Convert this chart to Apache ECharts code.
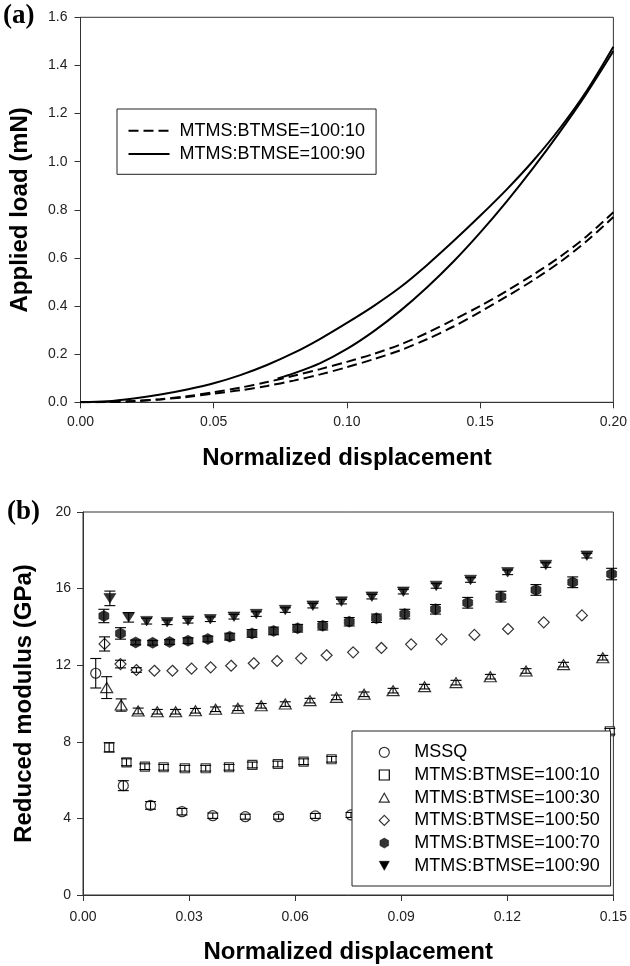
<!DOCTYPE html>
<html><head><meta charset="utf-8">
<script src="https://cdn.jsdelivr.net/npm/echarts@6/dist/echarts.min.js"></script>
<style>html,body{margin:0;padding:0;background:#fff}#c{width:630px;height:966px}</style>
</head><body><div id="c"></div>
<script>
// ---------- Panel (a): load vs normalized displacement ----------
const dispA = [0,0.01,0.02,0.03,0.04,0.05,0.06,0.07,0.08,0.09,0.10,0.11,0.12,0.13,0.14,0.15,0.16,0.17,0.18,0.19,0.20];
const load10Upper = [0,0.001,0.005,0.013,0.025,0.042,0.061,0.084,0.11,0.138,0.168,0.201,0.24,0.288,0.343,0.40,0.463,0.531,0.605,0.69,0.79];
const load10Lower = [0,0.001,0.005,0.012,0.022,0.036,0.050,0.068,0.09,0.116,0.146,0.179,0.216,0.262,0.315,0.376,0.44,0.508,0.583,0.67,0.77];
const load90Upper = [0,0.004,0.016,0.032,0.053,0.079,0.113,0.155,0.205,0.264,0.33,0.40,0.478,0.57,0.67,0.775,0.885,1.005,1.14,1.295,1.478];
const dispA90Lower = [0.074,0.08,0.09,0.10,0.11,0.12,0.13,0.14,0.15,0.16,0.17,0.18,0.19,0.20];
const load90Lower = [0.099,0.12,0.163,0.222,0.295,0.38,0.477,0.585,0.705,0.835,0.975,1.125,1.285,1.46];
const xTicksA = [0,0.2,0.05];   // min, max, interval
const yTicksA = [0,1.6,0.2];

// ---------- Panel (b): reduced modulus ----------
const namesB = ['MSSQ','MTMS:BTMSE=100:10','MTMS:BTMSE=100:30','MTMS:BTMSE=100:50','MTMS:BTMSE=100:70','MTMS:BTMSE=100:90'];
const mssqX = [0.0036,0.0114,0.0191,0.0280,0.0367,0.0459,0.0553,0.0657,0.0758];
const mssqY = [11.58,5.71,4.68,4.35,4.14,4.09,4.09,4.13,4.18];
const mssqErr = [0.77,0.26,0.2,0.17,0.14,0.13,0.13,0.13,0.13];
const b10X = [0.0074,0.0123,0.0175,0.0228,0.0288,0.0347,0.0413,0.0479,0.0551,0.0624,0.0703,0.1490];
const b10Y = [7.71,6.93,6.70,6.67,6.62,6.62,6.67,6.79,6.84,6.96,7.09,8.55];
const b10Err = [0.24,0.18,0.15,0.15,0.15,0.15,0.15,0.15,0.15,0.15,0.15,0.15];
const b30X = [0.0067,0.0108,0.0156,0.0210,0.0262,0.0318,0.0375,0.0438,0.0504,0.0572,0.0642,0.0717,0.0795,0.0877,0.0966,0.1055,0.1152,0.1253,0.1359,0.1470];
const b30Y = [10.83,9.92,9.61,9.57,9.57,9.62,9.70,9.75,9.88,9.97,10.15,10.32,10.48,10.67,10.88,11.09,11.40,11.70,12.03,12.39];
const b30Err = [0.57,0.32,0.15,0.12,0.12,0.12,0.12,0.12,0.12,0.12,0.12,0.12,0.12,0.12,0.12,0.12,0.12,0.12,0.12,0.12];
const b50X = [0.0061,0.0106,0.0151,0.0202,0.0253,0.0307,0.0361,0.0419,0.0483,0.0549,0.0617,0.0689,0.0764,0.0844,0.0928,0.1014,0.1107,0.1202,0.1303,0.1411];
const b50Y = [13.11,12.06,11.75,11.71,11.71,11.82,11.89,11.97,12.10,12.22,12.36,12.52,12.67,12.90,13.09,13.35,13.58,13.89,14.24,14.60];
const b50Err = [0.37,0.2,0.12,0,0,0,0,0,0,0,0,0,0,0,0,0,0,0,0,0];
const b70X = [0.0059,0.0106,0.0149,0.0197,0.0245,0.0297,0.0353,0.0415,0.0478,0.0539,0.0607,0.0678,0.0753,0.0830,0.0910,0.0997,0.1088,0.1182,0.1281,0.1385,0.1495];
const b70Y = [14.57,13.66,13.19,13.17,13.21,13.28,13.37,13.49,13.66,13.79,13.93,14.06,14.27,14.45,14.67,14.92,15.26,15.58,15.93,16.33,16.76];
const b70Err = [0.35,0.3,0.12,0.12,0.12,0.15,0.15,0.18,0.2,0.2,0.2,0.22,0.22,0.22,0.25,0.25,0.28,0.28,0.28,0.28,0.3];
const b90X = [0.0076,0.0129,0.0180,0.0238,0.0297,0.0360,0.0427,0.0490,0.0572,0.0650,0.0731,0.0817,0.0906,0.0999,0.1096,0.1201,0.1309,0.1425];
const b90Y = [15.49,14.50,14.30,14.24,14.32,14.40,14.53,14.67,14.88,15.11,15.32,15.58,15.84,16.14,16.45,16.85,17.23,17.72];
const b90Err = [0.38,0.25,0.15,0.12,0.12,0.12,0.12,0.12,0.12,0.12,0.12,0.12,0.12,0.12,0.12,0.12,0.12,0.12];
const xTicksB = [0,0.15,0.03];
const yTicksB = [0,20,4];

// ---------- styling ----------
const FONT = 'Liberation Sans, Arial, sans-serif';
const AX = '#333';
const HEX = 'path://M5,0 L9.33,2.5 L9.33,7.5 L5,10 L0.67,7.5 L0.67,2.5 Z';
const TRI = 'path://M5,0 L10,9 L0,9 Z';
const INV = 'path://M0,0 L10,0 L5,9 Z';
const DIA = 'path://M5,0 L10,5 L5,10 L0,5 Z';
const CIR = 'circle';
const SQ = 'path://M0,0 L10,0 L10,10 L0,10 Z';
const hollow = {color:'#fff', borderColor:'#000', borderWidth:1.2};
const filled = {color:'#000', borderColor:'#000', borderWidth:0.6};
const styleB = [
  {sym:CIR, size:10, it:hollow, icon:'circle'},
  {sym:SQ, size:[9,9], it:hollow, icon:SQ},
  {sym:TRI, size:[12,10], it:hollow, icon:TRI},
  {sym:DIA, size:[11,11], it:hollow, icon:DIA},
  {sym:HEX, size:[10,11], it:filled, icon:HEX},
  {sym:INV, size:[12,9.5], it:filled, icon:INV}
];
const dataB = [[mssqX,mssqY,mssqErr],[b10X,b10Y,b10Err],[b30X,b30Y,b30Err],[b50X,b50Y,b50Err],[b70X,b70Y,b70Err],[b90X,b90Y,b90Err]];

function pairs(xs, ys){ return xs.map((x,i)=>[x, ys[i]]); }

function errSeries(xs, ys, es){
  return {
    type:'custom', xAxisIndex:1, yAxisIndex:1, z:3, silent:true, clip:false,
    encode:{x:0, y:1},
    data: xs.map((x,i)=>[x, ys[i], es[i]]),
    renderItem: function(params, api){
      const x = api.value(0), y = api.value(1), e = api.value(2);
      if (!(e > 0)) return {type:'group', children:[]};
      const t = api.coord([x, y+e]), b = api.coord([x, y-e]);
      const hw = 5.5, st = {stroke:'#000', lineWidth:1.1};
      return {type:'group', children:[
        {type:'line', shape:{x1:t[0], y1:t[1], x2:b[0], y2:b[1]}, style:st},
        {type:'line', shape:{x1:t[0]-hw, y1:t[1], x2:t[0]+hw, y2:t[1]}, style:st},
        {type:'line', shape:{x1:b[0]-hw, y1:b[1], x2:b[0]+hw, y2:b[1]}, style:st}
      ]};
    }
  };
}

function xAxis(idx, ticks, dec, gap, margin){
  return {
    type:'value', gridIndex:idx, min:ticks[0], max:ticks[1], interval:ticks[2],
    name:'Normalized displacement', nameLocation:'middle', nameGap:gap,
    nameTextStyle:{fontFamily:FONT, fontWeight:'bold', fontSize:24, color:'#000'},
    axisLine:{show:true, onZero:false, lineStyle:{color:AX, width:1}},
    axisTick:{show:true, inside:false, length:6, lineStyle:{color:AX}},
    axisLabel:{fontFamily:FONT, fontSize:14, color:'#222', margin:margin, formatter:v=>v.toFixed(dec)},
    splitLine:{show:false}
  };
}
function yAxis(idx, ticks, dec, name, gap, margin){
  return {
    type:'value', gridIndex:idx, min:ticks[0], max:ticks[1], interval:ticks[2],
    name:name, nameLocation:'middle', nameGap:gap,
    nameTextStyle:{fontFamily:FONT, fontWeight:'bold', fontSize:24, color:'#000'},
    axisLine:{show:true, onZero:false, lineStyle:{color:AX, width:1}},
    axisTick:{show:true, inside:false, length:6, lineStyle:{color:AX}},
    axisLabel:{fontFamily:FONT, fontSize:14, color:'#222', margin:margin, formatter:v=>v.toFixed(dec)},
    splitLine:{show:false}
  };
}

function curve(name, xs, ys, type){
  return {name:name, type:'line', xAxisIndex:0, yAxisIndex:0, data:pairs(xs, ys), smooth:0.3, symbol:'none',
    lineStyle:{color:'#000', width:2, type:type}, itemStyle:{color:'#000'}, z:2};
}
const series = [
  curve('MTMS:BTMSE=100:10', dispA, load10Upper, [10,5]),
  curve('MTMS:BTMSE=100:10', dispA, load10Lower, [10,5]),
  curve('MTMS:BTMSE=100:90', dispA, load90Upper, 'solid'),
  curve('MTMS:BTMSE=100:90', dispA90Lower, load90Lower, 'solid')
];
namesB.forEach((n,i)=>{
  const d = dataB[i], s = styleB[i];
  series.push({name:n, type:'scatter', xAxisIndex:1, yAxisIndex:1, data:pairs(d[0], d[1]),
    symbol:s.sym, symbolSize:s.size, itemStyle:s.it, z:2});
});
dataB.forEach(d=>series.push(errSeries(d[0], d[1], d[2])));

const noMark = {color:'rgba(0,0,0,0)', borderColor:'rgba(0,0,0,0)', borderWidth:0};
const option = {
  animation:false,
  backgroundColor:'#fff',
  title:[
    {text:'(a)', left:3, top:3, padding:0, textStyle:{fontFamily:'Liberation Serif, Times New Roman, serif', fontWeight:'bold', fontSize:27, color:'#000'}},
    {text:'(b)', left:7, top:499, padding:0, textStyle:{fontFamily:'Liberation Serif, Times New Roman, serif', fontWeight:'bold', fontSize:27, color:'#000'}}
  ],
  grid:[
    {left:80.5, top:17.3, width:535, height:385, show:true, borderColor:AX, borderWidth:1, backgroundColor:'transparent', containLabel:false},
    {left:83, top:512, width:532, height:383, show:true, borderColor:AX, borderWidth:1, backgroundColor:'transparent', containLabel:false}
  ],
  xAxis:[xAxis(0, xTicksA, 2, 44, 13), xAxis(1, xTicksB, 2, 45, 15)],
  yAxis:[yAxis(0, yTicksA, 1, 'Applied load (mN)', 48, 13), yAxis(1, yTicksB, 0, 'Reduced modulus (GPa)', 47, 12)],
  legend:[
    {
      orient:'vertical', left:117, top:109, padding:[11.7,11,10.3,10.5], itemGap:3.3,
      itemWidth:41, itemHeight:10, selectedMode:false,
      backgroundColor:'#fff', borderColor:'#222', borderWidth:1,
      textStyle:{fontFamily:FONT, fontSize:18, color:'#000', lineHeight:20, padding:[0,0,0,5]},
      data:[{name:'MTMS:BTMSE=100:10', itemStyle:noMark}, {name:'MTMS:BTMSE=100:90', itemStyle:noMark}]
    },
    {
      orient:'vertical', left:352, top:731, padding:[11.3,10.7,10.2,26.7], itemGap:2.7,
      itemWidth:10, itemHeight:10, selectedMode:false, symbolKeepAspect:true,
      backgroundColor:'#fff', borderColor:'#222', borderWidth:1,
      textStyle:{fontFamily:FONT, fontSize:18, color:'#000', lineHeight:20, padding:[0,0,0,20]},
      data: namesB.map((n,i)=>({name:n, icon:styleB[i].icon, itemStyle:Object.assign({}, styleB[i].it)}))
    }
  ],
  series: series
};
const chart = echarts.init(document.getElementById('c'), null, {renderer:'canvas', width:630, height:966});
chart.setOption(option);
</script></body></html>
